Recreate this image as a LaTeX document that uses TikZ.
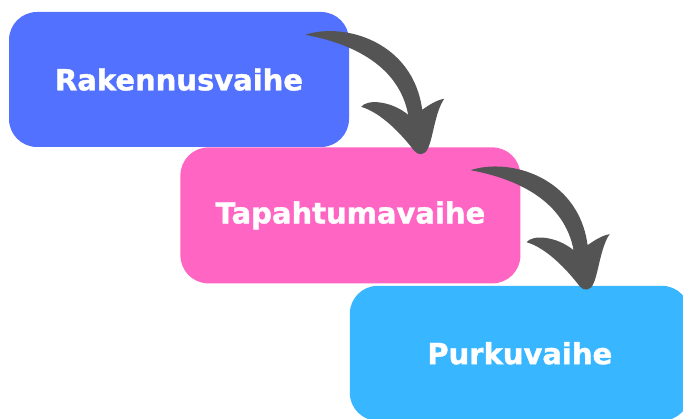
\documentclass[tikz,border=0pt]{standalone}
\usepackage{fontspec}
\setmainfont{DejaVu Sans}[BoldFeatures={FakeBold=1.3}]
\usetikzlibrary{positioning,calc}
\definecolor{rakblue}{HTML}{5271FF}
\definecolor{tappink}{HTML}{FF66C4}
\definecolor{purblue}{HTML}{38B6FF}
\definecolor{arrowgrey}{HTML}{545454}

\begin{document}
\begin{tikzpicture}[x=1pt, y=1pt]

\tikzset{
    phase/.style={rectangle, rounded corners=28pt, inner sep=0pt, minimum width=340pt, minimum height=135pt, text=white, font={\fontsize{29}{34}\selectfont\bfseries}},
    % tapered bent arrow, drawn from the north east corner of a phase
    swoop/.pic={
        \fill[arrowgrey] (-44,-23)
            .. controls (-5,-10) and (64,-30) .. (73,-98)
            .. controls (80,-93) and (88,-88) .. (95,-87)
            .. controls (86,-100) and (84,-125) .. (79,-136)
            .. controls (76,-144) and (69,-144) .. (65,-139)
            .. controls (52,-122) and (32,-101) .. (12,-95)
            .. controls (18,-87) and (42,-89) .. (59,-103)
            .. controls (50,-55) and (5,-32) .. (-44,-23) -- cycle;
    }
}

\useasboundingbox (0,0) rectangle (683,-419);

%% Phases
\node [phase, fill=rakblue] (rak) at (179,-79.5) {Rakennusvaihe};
\node [phase, fill=tappink, minimum height=136pt, anchor=north west] (tap) at ([xshift=-169pt]rak.south east) {Tapahtumavaihe};
\node [phase, fill=purblue, anchor=north west] (pur) at ([xshift=-171pt,yshift=-2pt]tap.south east) {Purkuvaihe};

%% Arrows
\pic at (rak.north east) {swoop};
\pic at ([xshift=-6pt]tap.north east) {swoop};
\end{tikzpicture}
\end{document}
